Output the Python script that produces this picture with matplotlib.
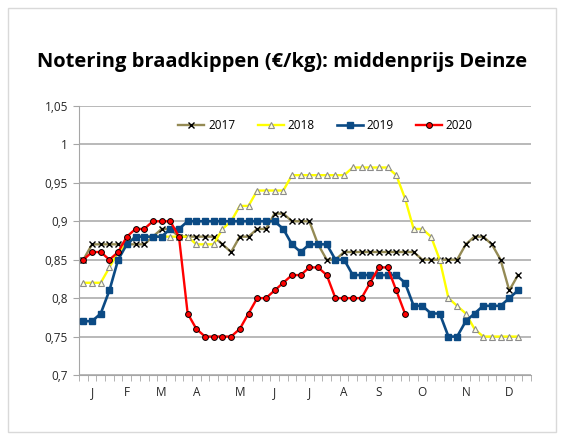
import matplotlib.pyplot as plt
from matplotlib.patches import Rectangle
from matplotlib.ticker import FixedLocator, FuncFormatter

# weekly prices (€/kg), week index 0..51
y2017 = [0.85, 0.87, 0.87, 0.87, 0.87, 0.87, 0.87, 0.87, 0.88, 0.89,
         0.89, 0.88, 0.88, 0.88, 0.88, 0.88, 0.87, 0.86, 0.88, 0.88,
         0.89, 0.89, 0.91, 0.91, 0.90, 0.90, 0.90, 0.87, 0.85, 0.85,
         0.86, 0.86, 0.86, 0.86, 0.86, 0.86, 0.86, 0.86, 0.86, 0.85,
         0.85, 0.85, 0.85, 0.85, 0.87, 0.88, 0.88, 0.87, 0.85, 0.81,
         0.83]
y2018 = [0.82, 0.82, 0.82, 0.84, 0.86, 0.87, 0.88, 0.88, 0.88, 0.88,
         0.88, 0.88, 0.88, 0.87, 0.87, 0.87, 0.89, 0.90, 0.92, 0.92,
         0.94, 0.94, 0.94, 0.94, 0.96, 0.96, 0.96, 0.96, 0.96, 0.96,
         0.96, 0.97, 0.97, 0.97, 0.97, 0.97, 0.96, 0.93, 0.89, 0.89,
         0.88, 0.85, 0.80, 0.79, 0.78, 0.76, 0.75, 0.75, 0.75, 0.75,
         0.75]
y2019 = [0.77, 0.77, 0.78, 0.81, 0.85, 0.87, 0.88, 0.88, 0.88, 0.88,
         0.89, 0.89, 0.90, 0.90, 0.90, 0.90, 0.90, 0.90, 0.90, 0.90,
         0.90, 0.90, 0.90, 0.89, 0.87, 0.86, 0.87, 0.87, 0.87, 0.85,
         0.85, 0.83, 0.83, 0.83, 0.83, 0.83, 0.83, 0.82, 0.79, 0.79,
         0.78, 0.78, 0.75, 0.75, 0.77, 0.78, 0.79, 0.79, 0.79, 0.80,
         0.81]
y2020 = [0.85, 0.86, 0.86, 0.85, 0.86, 0.88, 0.89, 0.89, 0.90, 0.90,
         0.90, 0.88, 0.78, 0.76, 0.75, 0.75, 0.75, 0.75, 0.76, 0.78,
         0.80, 0.80, 0.81, 0.82, 0.83, 0.83, 0.84, 0.84, 0.83, 0.80,
         0.80, 0.80, 0.80, 0.82, 0.84, 0.84, 0.81, 0.78]

n_weeks = 52
month_labels = ["J", "F", "M", "A", "M", "J", "J", "A", "S", "O", "N", "D"]
month_weeks = [1, 5, 9, 13, 18, 22, 26, 30, 34, 39, 44, 49]

plt.rcParams['font.family'] = ['Open Sans', 'DejaVu Sans']

fig = plt.figure(figsize=(5.68, 4.41), dpi=100)
ax = fig.add_axes([79 / 568, 1 - 375 / 441, 452 / 568, 269 / 441])

# chart area border
fig.patches.append(Rectangle((8 / 568, 1 - 432 / 441), 548 / 568, 424 / 441,
                             transform=fig.transFigure, fill=False,
                             edgecolor='#D9D9D9', linewidth=1))

ax.plot(range(len(y2017)), y2017, color='#948A54', lw=1.7, marker='x',
        ms=4.5, mec='black', mew=1.0, label='2017', zorder=3)
ax.plot(range(len(y2018)), y2018, color='#FFFF00', lw=1.7, marker='^',
        ms=4.5, mfc='#FFFFE0', mec='#8C8C8C', mew=0.8, label='2018', zorder=4)
ax.plot(range(len(y2019)), y2019, color='#0B4A84', lw=1.9, marker='s',
        ms=4.5, mfc='#0B4A84', mec='#0B4A84', label='2019', zorder=5)
ax.plot(range(len(y2020)), y2020, color='#FF0000', lw=1.7, marker='o',
        ms=4.2, mfc='#FF0000', mec='black', mew=0.7, label='2020', zorder=6)

ax.set_xlim(-0.5, n_weeks - 0.5)
ax.set_ylim(0.7, 1.05)

yt = [0.7, 0.75, 0.8, 0.85, 0.9, 0.95, 1.0, 1.05]
ax.set_yticks(yt)
ax.yaxis.set_major_formatter(FuncFormatter(
    lambda v, p: ('%.2f' % v).rstrip('0').rstrip('.').replace('.', ',')))
ax.grid(axis='y', color='#A6A6A6', lw=1.1)
ax.set_axisbelow(True)

ax.set_xticks(month_weeks)
ax.set_xticklabels(month_labels)
ax.tick_params(axis='x', which='major', length=0, pad=8)
ax.xaxis.set_minor_locator(FixedLocator([i - 0.5 for i in range(n_weeks + 1)]))
ax.tick_params(axis='x', which='minor', length=4, color='#A6A6A6')
ax.tick_params(axis='y', length=4, color='#A6A6A6', pad=4)
ax.tick_params(labelsize=8.5, labelcolor='#262626')

for s in ['top', 'right']:
    ax.spines[s].set_visible(False)
for s in ['left', 'bottom']:
    ax.spines[s].set_color('#A6A6A6')

ax.legend(loc='upper center', bbox_to_anchor=(0.545, 0.99), ncol=4,
          frameon=False, fontsize=8.5, handlelength=2.2, columnspacing=1.9,
          handletextpad=0.3)

fig.text(0.497, 1 - 62 / 441, 'Notering braadkippen (€/kg): middenprijs Deinze',
         ha='center', va='center', fontsize=14.5, fontweight='bold')

fig.savefig('out.png', dpi=100)
